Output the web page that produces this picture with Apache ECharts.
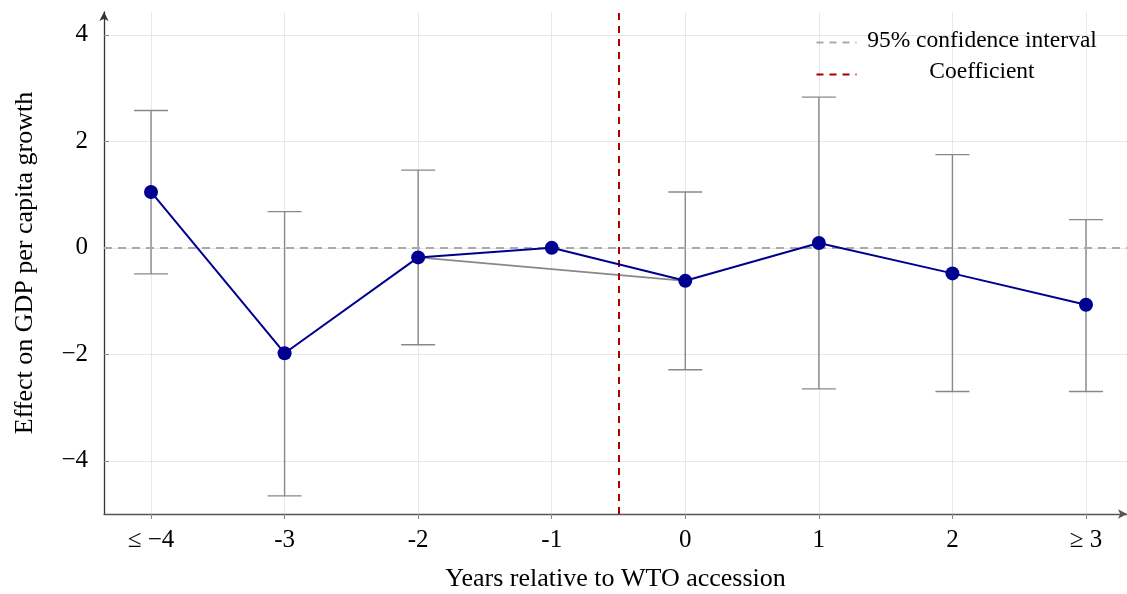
<!DOCTYPE html>
<html>
<head>
<meta charset="utf-8">
<script src="https://cdn.jsdelivr.net/npm/echarts@6/dist/echarts.min.js"></script>
<style>
  html, body { margin: 0; padding: 0; background: #fff; }
</style>
</head>
<body>
<div id="main" style="width:1127px;height:594px;"></div>
<script>
// categories on the x axis (years relative to accession)
var categories = ['\u2264 \u22124', '-3', '-2', '-1', '0', '1', '2', '\u2265 3'];
// point estimates
var coef = [1.05, -1.98, -0.18, 0.0, -0.62, 0.09, -0.48, -1.07];
// 95% confidence bounds (null = reference year, no interval)
var ciUpper = [2.58, 0.68, 1.46, null, 1.05, 2.83, 1.75, 0.53];
var ciLower = [-0.49, -4.66, -1.82, null, -2.29, -2.65, -2.70, -2.70];
var yTicks = [-4, -2, 0, 2, 4];
var xTicks = [0, 1, 2, 3, 4, 5, 6, 7];
var accessionLine = 3.5;

var FONT = '"Liberation Serif", "DejaVu Serif", serif';
var chart = echarts.init(document.getElementById('main'));

var pts = coef.map(function (v, i) { return [i, v]; });
var bars = [];
for (var i = 0; i < coef.length; i++) {
  if (ciUpper[i] != null) bars.push([i, ciLower[i], ciUpper[i]]);
}

var option = {
  animation: false,
  grid: { left: 104, right: 0, top: 12, bottom: 80, containLabel: false, outerBoundsMode: 'none' },
  xAxis: {
    type: 'value',
    min: -0.352,
    max: 7.307,
    name: 'Years relative to WTO accession',
    nameLocation: 'middle',
    nameGap: 52,
    nameTextStyle: { fontFamily: FONT, fontSize: 26, color: '#000' },
    axisLine: { onZero: false, lineStyle: { color: '#555', width: 1.3 }, symbol: ['none', 'arrow'], symbolSize: [7, 9] },
    axisTick: { customValues: xTicks, length: 5, lineStyle: { color: '#888' } },
    axisLabel: {
      customValues: xTicks,
      margin: 14,
      fontFamily: FONT, fontSize: 25, color: '#000',
      formatter: function (v) { return categories[Math.round(v)]; }
    },
    splitLine: { show: true, lineStyle: { color: '#e8e8e8', width: 1 } }
  },
  yAxis: {
    type: 'value',
    min: -5,
    max: 4.43,
    name: 'Effect on GDP per capita growth',
    nameLocation: 'middle',
    nameGap: 66,
    nameRotate: 90,
    nameTextStyle: { fontFamily: FONT, fontSize: 26, color: '#000' },
    axisLine: { show: true, onZero: false, lineStyle: { color: '#333', width: 1.3 }, symbol: ['none', 'arrow'], symbolSize: [7, 9] },
    axisTick: { show: true, inside: true, customValues: yTicks, length: 5, lineStyle: { color: '#888' } },
    axisLabel: {
      customValues: yTicks,
      margin: 16,
      fontFamily: FONT, fontSize: 25, color: '#000',
      formatter: function (v) { return String(v).replace('-', '\u2212'); }
    },
    splitLine: { show: true, lineStyle: { color: '#e8e8e8', width: 1 } }
  },
  graphic: [
    { type: 'line', z: 100, left: 814, top: 40, shape: { x1: 0, y1: 0, x2: 40, y2: 0 },
      style: { stroke: '#aaa', lineWidth: 2, lineDash: [7, 6] } },
    { type: 'text', z: 100, x: 982, y: 41,
      style: { text: '95% confidence interval', fontFamily: FONT, fontSize: 23.5, fill: '#000',
               textAlign: 'center', textVerticalAlign: 'middle' } },
    { type: 'line', z: 100, left: 814, top: 72, shape: { x1: 0, y1: 0, x2: 40, y2: 0 },
      style: { stroke: '#aa0000', lineWidth: 2, lineDash: [7, 6] } },
    { type: 'text', z: 100, x: 982, y: 72,
      style: { text: 'Coefficient', fontFamily: FONT, fontSize: 23.5, fill: '#000',
               textAlign: 'center', textVerticalAlign: 'middle' } }
  ],
  series: [
    {
      // zero reference line and vertical accession line
      type: 'line',
      data: [],
      silent: true,
      markLine: {
        symbol: 'none',
        silent: true,
        label: { show: false },
        data: [
          { yAxis: 0, lineStyle: { color: '#aaa', width: 2, type: [8, 6] } },
          { xAxis: accessionLine, lineStyle: { color: '#aa0000', width: 2, type: [7, 6] } }
        ]
      }
    },
    {
      type: 'custom',
      data: bars,
      z: 3,
      renderItem: function (params, api) {
        var x = api.value(0);
        var lo = api.coord([x, api.value(1)]);
        var hi = api.coord([x, api.value(2)]);
        var w = 17;
        var st = { stroke: '#888', lineWidth: 1.4 };
        return {
          type: 'group',
          children: [
            { type: 'line', shape: { x1: lo[0], y1: lo[1], x2: hi[0], y2: hi[1] }, style: st },
            { type: 'line', shape: { x1: hi[0] - w, y1: hi[1], x2: hi[0] + w, y2: hi[1] }, style: st },
            { type: 'line', shape: { x1: lo[0] - w, y1: lo[1], x2: lo[0] + w, y2: lo[1] }, style: st }
          ]
        };
      }
    },
    {
      // gray connector skipping the reference year
      type: 'line',
      z: 4,
      data: [pts[2], pts[4]],
      symbol: 'none',
      lineStyle: { color: '#888', width: 1.8 }
    },
    {
      type: 'line',
      z: 5,
      data: pts,
      symbol: 'circle',
      symbolSize: 14,
      itemStyle: { color: '#000090' },
      lineStyle: { color: '#000090', width: 2 }
    }
  ]
};
chart.setOption(option);
</script>
</body>
</html>
